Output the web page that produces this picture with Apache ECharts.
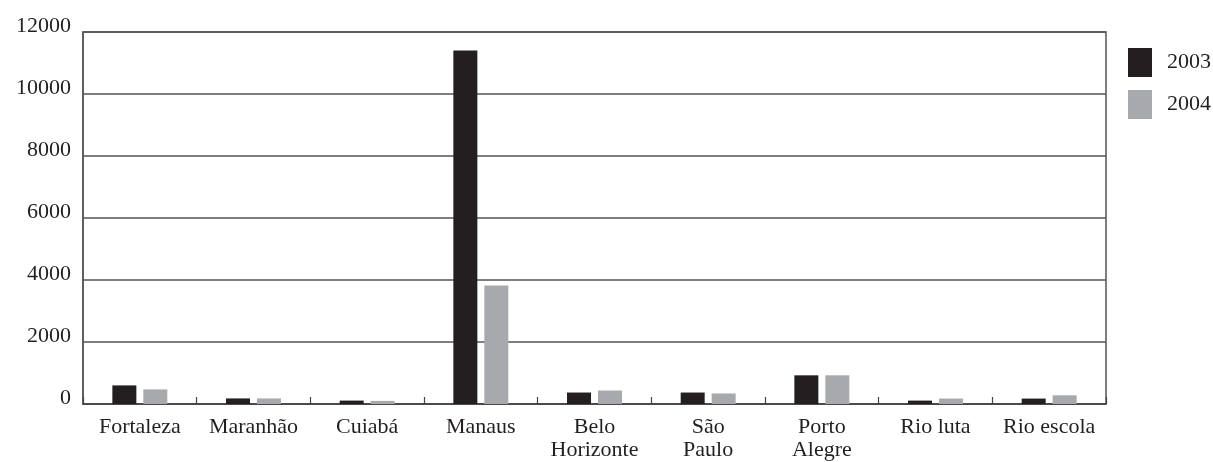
<!DOCTYPE html>
<html>
<head>
<meta charset="utf-8">
<script src="https://cdn.jsdelivr.net/npm/echarts@6/dist/echarts.min.js"></script>
<style>
html,body{margin:0;padding:0;background:#fff;}
#chart{width:1213px;height:462px;}
</style>
</head>
<body>
<div id="chart"></div>
<script>
const categories = ['Fortaleza','Maranhão','Cuiabá','Manaus','Belo\nHorizonte','São\nPaulo','Porto\nAlegre','Rio luta','Rio escola'];
const seriesNames = ['2003','2004'];
const values2003 = [600, 180, 110, 11400, 370, 370, 925, 110, 175];
const values2004 = [470, 180, 100, 3820, 435, 340, 925, 175, 280];
const yTicks = [0, 2000, 4000, 6000, 8000, 10000, 12000];

const FONT = 'Liberation Serif';
const chart = echarts.init(document.getElementById('chart'));
chart.setOption({
  animation: false,
  backgroundColor: '#fff',
  textStyle: { fontFamily: FONT },
  grid: { left: 83, right: 107, top: 32, bottom: 56.5, show: true, borderColor: '#555', borderWidth: 1.5, backgroundColor: 'transparent' },
  legend: {
    orient: 'vertical', left: 1128, top: 48, padding: 0,
    itemWidth: 24, itemHeight: 29, itemGap: 13,
    icon: 'rect',
    textStyle: { fontFamily: FONT, fontSize: 22, color: '#231f20', padding: [0, 0, 0, 10] },
    data: seriesNames
  },
  xAxis: {
    type: 'category', data: categories,
    axisLine: { lineStyle: { color: '#444', width: 1.5 } },
    axisTick: { show: true, inside: true, length: 7, lineStyle: { color: '#444', width: 1.2 } },
    axisLabel: { fontFamily: FONT, fontSize: 22, color: '#231f20', margin: 12, lineHeight: 23, interval: 0 }
  },
  yAxis: {
    type: 'value', min: yTicks[0], max: yTicks[yTicks.length - 1], interval: 2000,
    axisLine: { show: true, lineStyle: { color: '#555', width: 1.5 } },
    axisTick: { show: false },
    splitLine: { show: true, lineStyle: { color: '#555', width: 1.5 } },
    axisLabel: { fontFamily: FONT, fontSize: 22, color: '#231f20', margin: 12, verticalAlign: 'bottom', lineHeight: 12,
      formatter: function (v) { return String(v); } }
  },
  series: [
    { name: seriesNames[0], type: 'bar', data: values2003, barWidth: 24, barGap: '29%', itemStyle: { color: '#231f20' } },
    { name: seriesNames[1], type: 'bar', data: values2004, barWidth: 24, itemStyle: { color: '#a7a9ac' } }
  ]
});
</script>
</body>
</html>
